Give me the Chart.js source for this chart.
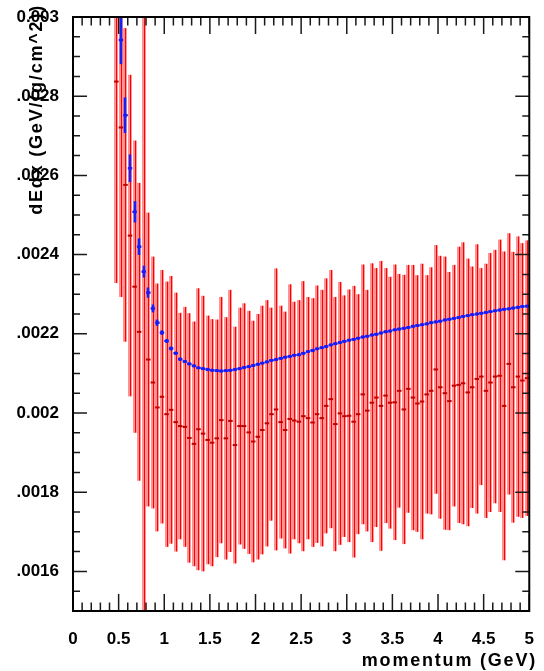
<!DOCTYPE html>
<html>
<head>
<meta charset="utf-8">
<script src="https://cdn.jsdelivr.net/npm/chart.js@4/dist/chart.umd.min.js"></script>
<style>
  html, body { margin: 0; padding: 0; background: #fff; }
  canvas { display: block; }
</style>
</head>
<body>
<canvas id="grafico" width="544" height="671"></canvas>
<script>
// bin centres (GeV), bin width 0.05
const momentum = [0.475,0.525,0.575,0.625,0.675,0.725,0.775,0.825,0.875,0.925,0.975,1.025,1.075,1.125,1.175,1.225,1.275,1.325,1.375,1.425,1.475,1.525,1.575,1.625,1.675,1.725,1.775,1.825,1.875,1.925,1.975,2.025,2.075,2.125,2.175,2.225,2.275,2.325,2.375,2.425,2.475,2.525,2.575,2.625,2.675,2.725,2.775,2.825,2.875,2.925,2.975,3.025,3.075,3.125,3.175,3.225,3.275,3.325,3.375,3.425,3.475,3.525,3.575,3.625,3.675,3.725,3.775,3.825,3.875,3.925,3.975,4.025,4.075,4.125,4.175,4.225,4.275,4.325,4.375,4.425,4.475,4.525,4.575,4.625,4.675,4.725,4.775,4.825,4.875,4.925,4.975];
const binWidth = 0.05;

// red profile (measured)
const redDedx = [0.002837,0.002721,0.002576,0.002448,0.002319,0.002205,0.0012,0.002135,0.002077,0.002014,0.002041,0.001997,0.002008,0.001977,0.001967,0.001965,0.001937,0.001922,0.001959,0.001948,0.001932,0.001925,0.001936,0.001982,0.001936,0.00198,0.001919,0.001967,0.001967,0.001951,0.001928,0.00194,0.001957,0.001974,0.001997,0.002009,0.001977,0.001957,0.001985,0.001981,0.001978,0.001992,0.001987,0.001976,0.001997,0.001987,0.002018,0.002035,0.001972,0.001999,0.001992,0.001993,0.001978,0.001997,0.002047,0.002006,0.002026,0.002039,0.002018,0.002044,0.002026,0.002027,0.002056,0.002009,0.002061,0.002039,0.002024,0.002029,0.002047,0.002056,0.00211,0.002065,0.00205,0.00203,0.002069,0.002071,0.002075,0.002052,0.002065,0.002086,0.002092,0.002056,0.002077,0.002092,0.002094,0.002018,0.002124,0.002065,0.002092,0.002082,0.002088];
const redErr = [0.000509,0.000428,0.000396,0.000406,0.000369,0.000376,0.0025,0.000371,0.000318,0.000313,0.00032,0.000335,0.000338,0.000327,0.000286,0.000303,0.000315,0.000309,0.000356,0.000348,0.000314,0.000312,0.0003,0.000311,0.000306,0.000331,0.000299,0.000299,0.00031,0.000307,0.000305,0.00031,0.000314,0.000311,0.000269,0.000356,0.000294,0.000299,0.00034,0.0003,0.000307,0.000341,0.000306,0.000314,0.000325,0.000324,0.000322,0.000326,0.000321,0.000332,0.000305,0.000319,0.000343,0.000303,0.000328,0.000305,0.000352,0.000327,0.000366,0.000322,0.000318,0.000348,0.000295,0.00034,0.000313,0.000335,0.000324,0.000348,0.000301,0.000312,0.000314,0.000332,0.000345,0.000326,0.000305,0.000349,0.000356,0.000338,0.000305,0.00034,0.000274,0.000321,0.000327,0.00032,0.000344,0.00039,0.00033,0.000342,0.000354,0.000347,0.000348];

// blue profile (expected)
const blueDedx = [null,0.002942,0.002752,0.002618,0.002508,0.00242,0.002357,0.002304,0.002264,0.002228,0.002203,0.002182,0.002163,0.002151,0.002136,0.00213,0.002124,0.002119,0.002114,0.002112,0.00211,0.002108,0.002107,0.002106,0.002107,0.002108,0.00211,0.002112,0.002115,0.002117,0.00212,0.002123,0.002126,0.002129,0.002133,0.002135,0.002138,0.002141,0.002143,0.002146,0.002147,0.002151,0.002155,0.002158,0.002162,0.002165,0.002168,0.002172,0.002175,0.002178,0.002181,0.002184,0.002186,0.002189,0.002192,0.002194,0.002197,0.002199,0.002202,0.002205,0.002207,0.00221,0.002212,0.002214,0.002216,0.002219,0.002221,0.002223,0.002225,0.002228,0.00223,0.002232,0.002235,0.002237,0.002239,0.002241,0.002244,0.002246,0.002248,0.00225,0.002252,0.002254,0.002256,0.002258,0.00226,0.002262,0.002263,0.002265,0.002267,0.002269,0.00227];
const blueErr = [null,0.000061,0.000045,0.000035,0.000027,0.000021,0.000015,0.000013,0.00001,0.000008,0.000006,0.000005,0.000005,0.000004,0.000004,0.000003,0.000003,0.000003,0.000003,0.000003,0.000003,0.000003,0.000003,0.000003,0.000003,0.000003,0.000003,0.000003,0.000003,0.000003,0.000003,0.000003,0.000003,0.000003,0.000003,0.000003,0.000003,0.000003,0.000003,0.000003,0.000003,0.000003,0.000003,0.000003,0.000003,0.000003,0.000003,0.000003,0.000003,0.000003,0.000003,0.000003,0.000003,0.000003,0.000003,0.000003,0.000003,0.000003,0.000003,0.000003,0.000003,0.000003,0.000003,0.000003,0.000003,0.000003,0.000003,0.000003,0.000003,0.000003,0.000003,0.000003,0.000003,0.000003,0.000003,0.000003,0.000003,0.000003,0.000003,0.000003,0.000003,0.000003,0.000003,0.000003,0.000003,0.000003,0.000003,0.000003,0.000003,0.000003,0.000003];

// axes
const xTickValues = [0,0.5,1,1.5,2,2.5,3,3.5,4,4.5,5];
const xTickLabels = ["0","0.5","1","1.5","2","2.5","3","3.5","4","4.5","5"];
const yTickValues = [0.0016,0.0018,0.002,0.0022,0.0024,0.0026,0.0028,0.003];
const yTickLabels = [".0016",".0018","0.002",".0022",".0024",".0026",".0028","0.003"];
const xTitle = "momentum (GeV)";
const yTitle = "dEdx (GeV/(g/cm^2))";

const toPoints = (vals) => momentum.map((m, i) => ({ x: m, y: vals[i] }));

// error bars, drawn with the chart's scales
const errorBars = {
  id: "errorBars",
  beforeDatasetsDraw(chart) {
    const { ctx, chartArea: a, scales: { x, y } } = chart;
    ctx.save();
    ctx.beginPath();
    ctx.rect(a.left, a.top, a.width, a.height);
    ctx.clip();
    chart.data.datasets.forEach((ds) => {
      if (!ds.yErrors) return;
      ds.data.forEach((p, i) => {
        if (p.y == null) return;
        const px = Math.round(x.getPixelForValue(p.x));
        const x0 = x.getPixelForValue(p.x - binWidth / 2);
        const x1 = x.getPixelForValue(p.x + binWidth / 2);
        const py = y.getPixelForValue(p.y);
        const hi = y.getPixelForValue(p.y + ds.yErrors[i]);
        const lo = y.getPixelForValue(p.y - ds.yErrors[i]);
        if (ds.errStyle === "band") {
          ctx.fillStyle = "rgba(255,40,40,0.5)";
          ctx.fillRect(px - 2, hi, 2, lo - hi);
          ctx.fillStyle = "#ff0000";
          ctx.fillRect(px, hi, 1.4, lo - hi);
          ctx.fillStyle = "#c00000";
          ctx.fillRect(x0, py - 1, x1 - x0, 2);
        } else {
          ctx.fillStyle = "#2a2ad0";
          ctx.fillRect(x0, py - 1.2, x1 - x0, 2.4);
          ctx.fillStyle = "#1e1ef0";
          ctx.fillRect(px - 1.3, hi, 2.6, lo - hi);
        }
      });
    });
    ctx.restore();
  },
};

// ROOT-like frame, inward ticks, axis titles
const frame = {
  id: "frame",
  afterDraw(chart) {
    const { ctx, chartArea: a, scales: { x, y } } = chart;
    ctx.save();
    ctx.strokeStyle = "#1a1a1a";
    ctx.lineWidth = 1.5;
    ctx.beginPath();
    for (let k = 0; k <= 50; k++) {
      const px = x.getPixelForValue(k / 10);
      const len = k % 5 === 0 ? 17 : 8.5;
      ctx.moveTo(px, a.bottom); ctx.lineTo(px, a.bottom - len);
      ctx.moveTo(px, a.top); ctx.lineTo(px, a.top + len);
    }
    for (let k = 30; k <= 60; k++) {
      const py = y.getPixelForValue(k * 0.00005);
      const len = (k - 32) % 4 === 0 ? 14 : 7;
      ctx.moveTo(a.left, py); ctx.lineTo(a.left + len, py);
      ctx.moveTo(a.right, py); ctx.lineTo(a.right - len, py);
    }
    ctx.stroke();
    ctx.lineWidth = 2;
    ctx.strokeStyle = "#000";
    ctx.strokeRect(a.left, a.top, a.right - a.left, a.bottom - a.top);

    ctx.fillStyle = "#000";
    ctx.font = 'bold 18px "Liberation Sans", Arial, sans-serif';
    ctx.letterSpacing = "1.8px";
    ctx.textAlign = "right";
    ctx.textBaseline = "alphabetic";
    ctx.fillText(xTitle, 537, 666);
    ctx.translate(42, 4);
    ctx.rotate(-Math.PI / 2);
    ctx.fillText(yTitle, 0, 0);
    ctx.restore();
  },
};

const tickFont = { family: "'Liberation Sans', Arial, sans-serif", size: 17, weight: "bold" };

new Chart(document.getElementById("grafico"), {
  type: "scatter",
  data: {
    datasets: [
      {
        label: "data",
        data: toPoints(redDedx),
        yErrors: redErr,
        errStyle: "band",
        pointRadius: 0,
        showLine: false,
      },
      {
        label: "expected",
        data: toPoints(blueDedx),
        yErrors: blueErr,
        errStyle: "bar",
        pointRadius: 1.7,
        pointBorderWidth: 0,
        pointBackgroundColor: "#1a1aff",
        showLine: false,
      },
    ],
  },
  options: {
    responsive: false,
    animation: false,
    devicePixelRatio: 1,
    layout: { padding: { top: 17, right: 9, left: 0, bottom: 0 } },
    plugins: { legend: { display: false }, tooltip: { enabled: false } },
    scales: {
      x: {
        type: "linear",
        min: 0,
        max: 5,
        grid: { display: false },
        border: { display: false },
        afterBuildTicks: (s) => { s.ticks = xTickValues.map((v) => ({ value: v })); },
        afterFit: (s) => { s.height = 60; },
        ticks: {
          autoSkip: false,
          maxRotation: 0,
          padding: 10,
          color: "#000",
          font: tickFont,
          callback: (v, i) => xTickLabels[i],
        },
      },
      y: {
        type: "linear",
        min: 0.0015,
        max: 0.003,
        grid: { display: false },
        border: { display: false },
        afterBuildTicks: (s) => { s.ticks = yTickValues.map((v) => ({ value: v })); },
        afterFit: (s) => { s.width = 73; },
        ticks: {
          autoSkip: false,
          padding: 6,
          color: "#000",
          font: tickFont,
          callback: (v, i) => yTickLabels[i],
        },
      },
    },
  },
  plugins: [errorBars, frame],
});
</script>
</body>
</html>
